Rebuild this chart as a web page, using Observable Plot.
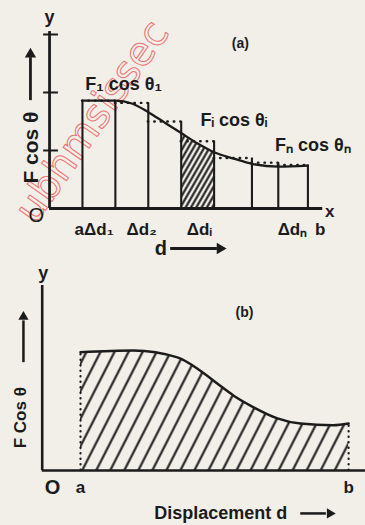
<!DOCTYPE html>
<html><head><meta charset="utf-8">
<script src="https://cdn.jsdelivr.net/npm/d3@7"></script>
<script src="https://cdn.jsdelivr.net/npm/@observablehq/plot@0.6"></script>
<style>
html,body{margin:0;padding:0;background:#f2efe9;}
#chart{width:365px;height:525px;overflow:hidden;background:#f2efe9;}
#chart svg{display:block;}
</style></head><body><div id="chart"></div>
<script>
// ---------- Panel (a): strips under the F cos θ curve ----------
const stripEdges = [1, 2, 3, 4, 5, 6.15, 6.95, 7.85];
const stripTops = [1.86, 1.82, 1.5, 1.16, 0.87, 0.79, 0.75];
const shadedStrip = 3; // the Δd_i strip
const curveA_d = [1, 2, 2.5, 3, 3.5, 4, 4.5, 5, 5.6, 6.15, 6.95, 7.85];
const curveA_v = [1.86, 1.86, 1.81, 1.66, 1.48, 1.30, 1.12, 0.97, 0.86, 0.77, 0.72, 0.74];
const yTicksA = [1, 2, 3];
const xLabelsA = ["a", "Δd₁", "Δd₂", "Δdᵢ", "Δdₙ", "b"];
const xLabelAtA = [0.9, 1.5, 2.8, 4.55, 7.38, 8.22];
const curveLabelsA = ["F₁ cos θ₁", "Fᵢ cos θᵢ", "Fₙ cos θₙ"];
const curveLabelAtA_d = [2.25, 5.6, 8.0];
const curveLabelAtA_v = [2.14, 1.52, 1.09];

// ---------- Panel (b): area under the curve ----------
const curveB_d = [1, 2.38, 3.53, 4.13, 4.57, 5.0, 5.52, 6.14, 6.74, 7.6, 8.0];
const curveB_v = [2.04, 2.07, 1.95, 1.72, 1.50, 1.29, 1.09, 0.90, 0.81, 0.78, 0.81];
const limitsB = ["a", "b"];

const INK = "#1b1b1b";
const FONT = "Liberation Sans, Arial, sans-serif";
const T = (size, weight = "bold") => ({fontSize: size, fontWeight: weight, fontFamily: FONT, fill: INK});

const curveA = curveA_d.map((d, i) => ({d, v: curveA_v[i]}));
const strips = stripTops.map((t, i) => ({left: stripEdges[i], right: stripEdges[i + 1], top: t}));
const edges = stripEdges.map((d, i) => ({d, top: i === 0 ? stripTops[0] : stripTops[i - 1]}));
const shaded = curveA.filter(p => p.d >= stripEdges[shadedStrip] && p.d <= stripEdges[shadedStrip + 1]);
const xLabA = xLabelsA.map((t, i) => ({t, d: xLabelAtA[i]}));
const cLabA = curveLabelsA.map((t, i) => ({t, d: curveLabelAtA_d[i], v: curveLabelAtA_v[i]}));

const plotA = Plot.plot({
  width: 365, height: 260, margin: 0,
  x: {domain: [-1.49, 9.6], axis: null},
  y: {domain: [-0.897, 3.586], axis: null},
  style: {background: "transparent", overflow: "visible"},
  marks: [
    Plot.text(["ubhmsissec"], {x: 1.3, y: 1.5, rotate: -55, fontSize: 40, fontFamily: "DejaVu Sans, sans-serif", fill: "none", stroke: "#ee7272", strokeWidth: 1}),
    Plot.areaY(shaded, {x: "d", y: "v", curve: "monotone-x", fill: "url(#hatchA)"}),
    Plot.ruleY(strips, {y: "top", x1: "left", x2: "right", stroke: INK, strokeWidth: 2.4, strokeDasharray: "0.5,6", strokeLinecap: "round"}),
    Plot.ruleX(edges, {x: "d", y1: 0, y2: "top", stroke: INK, strokeWidth: 2.1}),
    Plot.lineY(curveA, {x: "d", y: "v", curve: "monotone-x", stroke: INK, strokeWidth: 2.3}),
    Plot.ruleX([0], {y1: 0, y2: 3.05, stroke: INK, strokeWidth: 2.8}),
    Plot.ruleY([0], {x1: 0, x2: 8.3, stroke: INK, strokeWidth: 2.8}),
    Plot.ruleY(yTicksA, {x1: -0.18, x2: 0.27, stroke: INK, strokeWidth: 2}),
    Plot.text(["y"], {x: 0, y: 3.29, ...T(18)}),
    Plot.text(["x"], {x: 8.51, y: -0.05, ...T(17)}),
    Plot.text(["O"], {x: -0.4, y: -0.12, ...T(20, "normal")}),
    Plot.text(["(a)"], {x: 5.8, y: 2.84, ...T(14)}),
    Plot.text(cLabA, {x: "d", y: "v", text: "t", ...T(18)}),
    Plot.text(xLabA, {x: "d", y: -0.36, text: "t", ...T(17)}),
    // d ⟶
    Plot.text(["d"], {x: 3.38, y: -0.69, ...T(20)}),
    Plot.ruleY([-0.69], {x1: 3.68, x2: 5.1, stroke: INK, strokeWidth: 2.8}),
    Plot.dot([-0.69], {x: 5.18, y: d => d, symbol: "triangle", rotate: 90, r: 4.2, fill: INK, stroke: null}),
    // F cos θ ⟶ (vertical)
    Plot.text(["F cos θ"], {x: -0.55, y: 1.05, rotate: -90, ...T(21)}),
    Plot.ruleX([-0.58], {y1: 1.86, y2: 2.6, stroke: INK, strokeWidth: 2.8}),
    Plot.dot([-0.58], {x: d => d, y: 2.66, symbol: "triangle", r: 4.2, fill: INK, stroke: null})
  ]
});

const curveB = curveB_d.map((d, i) => ({d, v: curveB_v[i]}));
const limB = limitsB.map((t, i) => ({t, d: i === 0 ? curveB_d[0] : curveB_d[curveB_d.length - 1], v: i === 0 ? curveB_v[0] : curveB_v[curveB_v.length - 1]}));

const plotB = Plot.plot({
  width: 365, height: 265, margin: 0,
  x: {domain: [-1.089, 8.441], axis: null},
  y: {domain: [-0.948, 3.621], axis: null},
  style: {background: "transparent", overflow: "visible"},
  marks: [
    Plot.areaY(curveB, {x: "d", y: "v", curve: "monotone-x", fill: "url(#hatchB)"}),
    Plot.ruleX(limB, {x: "d", y1: 0, y2: "v", stroke: INK, strokeWidth: 2.2, strokeDasharray: "0.5,5", strokeLinecap: "round"}),
    Plot.lineY(curveB, {x: "d", y: "v", curve: "monotone-x", stroke: INK, strokeWidth: 2.5}),
    Plot.ruleX([0], {y1: 0, y2: 3.19, stroke: INK, strokeWidth: 2.6}),
    Plot.ruleY([0], {x1: 0, x2: 8.44, stroke: INK, strokeWidth: 2.6}),
    Plot.text(["y"], {x: 0.03, y: 3.4, ...T(18)}),
    Plot.text(["(b)"], {x: 5.28, y: 2.72, ...T(14)}),
    Plot.text(["O"], {x: 0.27, y: -0.29, ...T(20)}),
    Plot.text(limB, {x: "d", y: -0.29, text: "t", ...T(17)}),
    // Displacement d ⟶
    Plot.text(["Displacement d"], {x: 4.66, y: -0.74, ...T(18)}),
    Plot.ruleY([-0.74], {x1: 6.75, x2: 7.42, stroke: INK, strokeWidth: 2.5}),
    Plot.dot([-0.74], {x: 7.51, y: d => d, symbol: "triangle", rotate: 90, r: 3.8, fill: INK, stroke: null}),
    // F Cos θ ⟶ (vertical)
    Plot.text(["F Cos θ"], {x: -0.567, y: 0.91, rotate: -90, ...T(17)}),
    Plot.ruleX([-0.49], {y1: 1.86, y2: 2.58, stroke: INK, strokeWidth: 2.5}),
    Plot.dot([-0.49], {x: d => d, y: 2.65, symbol: "triangle", r: 3.8, fill: INK, stroke: null})
  ]
});

function addPattern(svg, id, w, angle, sw) {
  const defs = d3.select(svg).insert("defs", ":first-child");
  const p = defs.append("pattern").attr("id", id).attr("patternUnits", "userSpaceOnUse")
    .attr("width", w).attr("height", 20).attr("patternTransform", `rotate(${angle})`);
  p.append("line").attr("x1", w / 2).attr("x2", w / 2).attr("y1", -2).attr("y2", 22)
    .attr("stroke", INK).attr("stroke-width", sw);
}
addPattern(plotA, "hatchA", 4.6, 30, 2.1);
addPattern(plotB, "hatchB", 12.5, 27, 2.1);

const root = document.getElementById("chart");
root.append(plotA, plotB);
</script></body></html>
